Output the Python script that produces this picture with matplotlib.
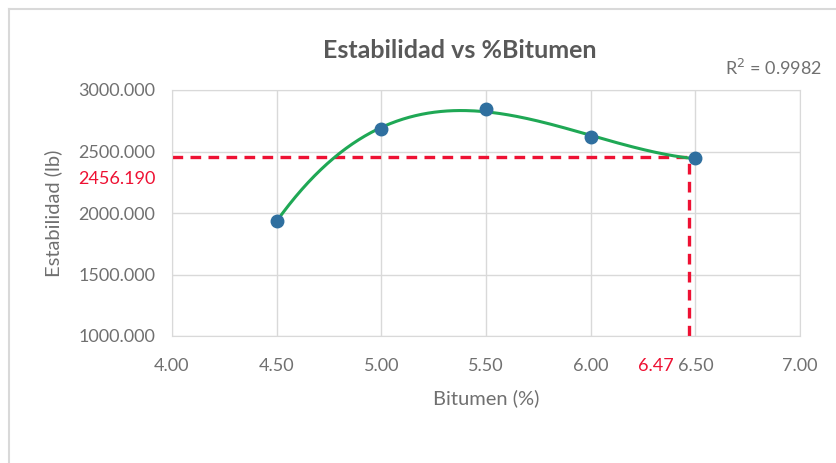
import matplotlib.pyplot as plt
from matplotlib.lines import Line2D
import numpy as np

plt.rcParams['font.family'] = ['Lato', 'DejaVu Sans']

# ensayo Marshall: estabilidad vs contenido de asfalto
bitumen = [4.5, 5.0, 5.5, 6.0, 6.5]
estabilidad = [1937, 2680, 2846, 2616, 2445]
opt_bitumen = 6.47
opt_estab = 2456.190
r2_text = "R$^2$ = 0.9982"

x_ticks = [4.0, 4.5, 5.0, 5.5, 6.0, 6.5, 7.0]
y_ticks = [1000, 1500, 2000, 2500, 3000]

gray = '#595959'
light = '#707070'
grid_c = '#d9d9d9'
red = '#ee1133'

fig = plt.figure(figsize=(8.36, 4.63), dpi=100)
ax = fig.add_axes([172/836, 1 - 336/463, (800-172)/836, (336-90)/463])

# linea de tendencia polinomica de grado 3
coef = np.polyfit(bitumen, estabilidad, 3)
xs = np.linspace(min(bitumen), max(bitumen), 200)
ax.plot(xs, np.polyval(coef, xs), color='#1fa855', lw=2.2, zorder=3)
ax.plot(bitumen, estabilidad, 'o', color='#2f6f9f', ms=9, zorder=4)

# lineas del optimo
ax.plot([4.0, opt_bitumen], [opt_estab, opt_estab], color=red, lw=2.4,
        dashes=(3.2, 2.2), zorder=2)
ax.plot([opt_bitumen, opt_bitumen], [1000, opt_estab], color=red, lw=2.4,
        dashes=(3.2, 2.2), zorder=2)

ax.set_xlim(4.0, 7.0)
ax.set_ylim(1000, 3000)
ax.set_xticks(x_ticks)
ax.set_yticks(y_ticks)
ax.set_xticklabels(['%.2f' % v for v in x_ticks])
ax.set_yticklabels(['%.3f' % v for v in y_ticks])
ax.tick_params(length=0, labelsize=13, colors=light)
ax.tick_params(axis='x', pad=16)
ax.tick_params(axis='y', pad=12)
ax.grid(True, color=grid_c, lw=1)
for s in ax.spines.values():
    s.set_color(grid_c)
ax.set_axisbelow(True)

# etiquetas del optimo
ax.annotate('%.2f' % opt_bitumen, (opt_bitumen, 1000), xytext=(-11, -16),
            textcoords='offset points', color=red, fontsize=13,
            ha='right', va='top')
ax.annotate('%.3f' % opt_estab, (4.0, opt_estab), xytext=(-12, -16),
            textcoords='offset points', color=red, fontsize=13,
            ha='right', va='center')

ax.set_xlabel('Bitumen (%)', color=light, fontsize=14.5, labelpad=11)
ax.set_ylabel('Estabilidad (lb)', color=light, fontsize=14.5, labelpad=12)

fig.text(460/836, 1 - 50/463, 'Estabilidad vs %Bitumen', color=gray,
         fontsize=18, fontweight='bold', ha='center', va='center')
fig.text(822/836, 1 - 68/463, r2_text, color=light, fontsize=13,
         ha='right', va='center')

# marco del area del grafico
fig.add_artist(Line2D([9/836, 1], [1 - 9/463, 1 - 9/463], color=grid_c, lw=1.5))
fig.add_artist(Line2D([9/836, 9/836], [0, 1 - 9/463], color=grid_c, lw=1.5))

fig.savefig('out.png', dpi=100, facecolor='white')
